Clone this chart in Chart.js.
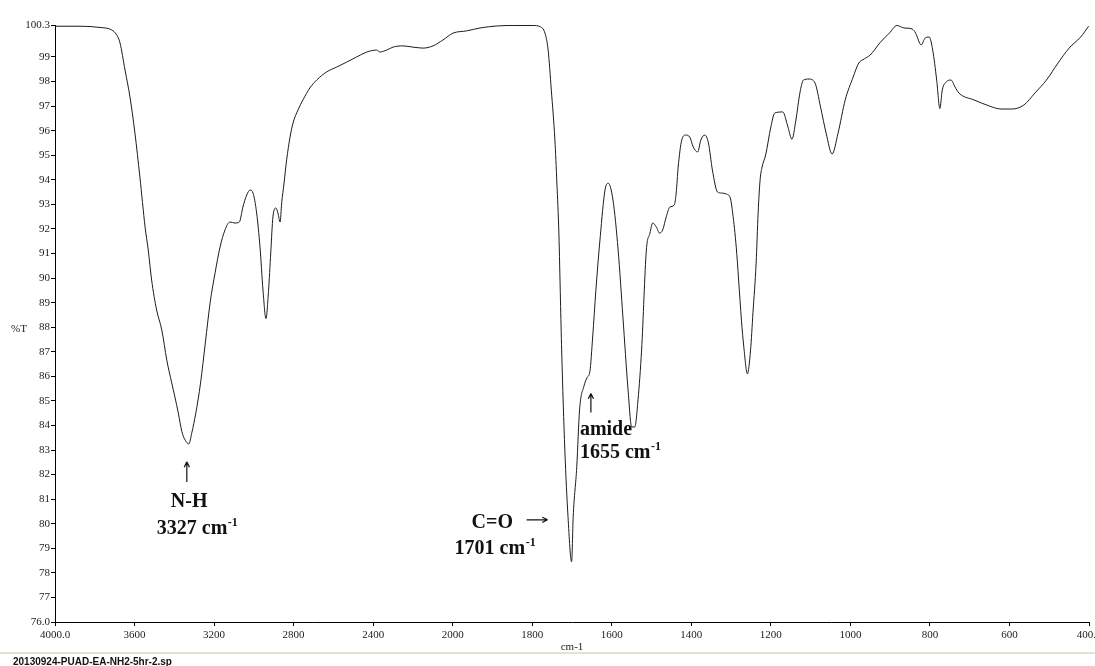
<!DOCTYPE html>
<html>
<head>
<meta charset="utf-8">
<script src="https://cdn.jsdelivr.net/npm/chart.js@4/dist/chart.umd.min.js"></script>
<style>
  html, body { margin: 0; padding: 0; background: #fff; }
  #wrap { position: relative; width: 1095px; height: 666px; overflow: hidden; }
  #spectrum { position: absolute; left: 0; top: 0; }
  #footer { position: absolute; left: 0; top: 652px; width: 1095px; height: 14px; border-top: 2px solid #e6e2d3; }
  #footer span { position: absolute; left: 13px; top: 3px; font: bold 10px "Liberation Sans", Arial, sans-serif; line-height: 10px; color: #111; white-space: nowrap; }
</style>
</head>
<body>
<div id="wrap">
  <canvas id="spectrum" width="1095" height="666"></canvas>
  <div id="footer"><span>20130924-PUAD-EA-NH2-5hr-2.sp</span></div>
</div>
<script>
// FTIR spectrum: wavenumber (cm-1) vs transmittance (%T)
const wavenumbers = [
  4000, 3874, 3774, 3715, 3690, 3673, 3648, 3623, 3598, 3573, 3547, 3531, 3514, 3489, 3463, 3438,
  3413, 3397, 3380, 3362, 3345, 3327, 3312, 3292, 3268, 3244, 3220, 3195, 3170, 3145, 3120, 3095,
  3073, 3055, 3036, 3019, 3004, 2986, 2969, 2954, 2939, 2926, 2915, 2904, 2889, 2879, 2868, 2860,
  2848, 2835, 2818, 2803, 2778, 2753, 2718, 2684, 2634, 2583, 2533, 2483, 2432, 2382, 2366, 2332,
  2300, 2250, 2200, 2149, 2099, 2049, 1999, 1965, 1931, 1889, 1848, 1798, 1780, 1768, 1760, 1752,
  1743, 1738, 1733, 1729, 1726, 1718, 1710, 1701, 1697, 1688, 1681, 1670, 1662, 1655, 1648, 1640,
  1629, 1617, 1609, 1597, 1584, 1572, 1559, 1550, 1542, 1534, 1525, 1513, 1504, 1497, 1488, 1480,
  1472, 1463, 1454, 1443, 1438, 1433, 1424, 1414, 1404, 1395, 1384, 1376, 1366, 1357, 1347, 1334,
  1324, 1312, 1302, 1296, 1287, 1281, 1274, 1268, 1259, 1251, 1245, 1237, 1232, 1227, 1222, 1213,
  1200, 1190, 1170, 1157, 1147, 1137, 1127, 1118, 1104, 1089, 1075, 1061, 1046, 1031, 1013, 993,
  979, 965, 950, 926, 902, 883, 865, 845, 836, 822, 812, 802, 793, 783, 775, 769,
  759, 747, 737, 727, 689, 650, 621, 594, 564, 536, 507, 478, 450, 421, 401
];
const transmittance = [
  100.25, 100.25, 100.2, 100.1, 99.9, 99.57, 98.47, 97.37, 95.9, 94.11, 92.08, 91.14, 89.92, 88.7, 87.89, 86.67,
  85.73, 85.16, 84.51, 83.75, 83.4, 83.25, 83.7, 84.5, 85.73, 87.36, 88.99, 90.21, 91.26, 91.96, 92.28, 92.24,
  92.28, 92.89, 93.38, 93.58, 93.46, 92.65, 91.26, 89.51, 88.35, 89.5, 91.02, 92.49, 92.85, 92.65, 92.28, 93.06,
  93.87, 94.81, 95.74, 96.31, 96.84, 97.25, 97.74, 98.06, 98.39, 98.59, 98.79, 99.0, 99.2, 99.28, 99.2, 99.28,
  99.4, 99.45, 99.4, 99.36, 99.45, 99.69, 99.97, 100.06, 100.18, 100.26, 100.28, 100.28, 100.23, 99.97, 99.28, 97.65,
  95.62, 93.87, 91.83, 89.1, 87.07, 83.0, 80.28, 78.45, 80.28, 82.32, 84.63, 85.6, 85.95, 86.2, 87.6, 89.5,
  91.68, 93.58, 93.86, 93.18, 91.14, 88.42, 85.44, 83.94, 83.94, 85.04, 87.07, 91.14, 91.83, 92.24, 92.08, 91.83,
  91.96, 92.49, 92.89, 92.97, 93.46, 94.52, 95.62, 95.82, 95.74, 95.33, 95.13, 95.62, 95.82, 95.5, 94.4, 93.5,
  93.46, 93.42, 93.26, 92.65, 91.26, 89.92, 88.29, 87.2, 86.1, 87.07, 88.58, 90.61, 92.65, 94.0, 94.52, 95.01,
  96.15, 96.72, 96.76, 96.15, 95.65, 96.43, 97.53, 98.06, 98.1, 97.94, 96.96, 95.9, 95.05, 95.9, 97.25, 98.18,
  98.75, 98.92, 99.08, 99.57, 99.97, 100.28, 100.18, 100.14, 99.97, 99.49, 99.77, 99.81, 99.28, 98.06, 96.9, 97.65,
  97.98, 98.06, 97.78, 97.53, 97.25, 97.0, 96.88, 96.88, 97.04, 97.53, 98.06, 98.75, 99.36, 99.81, 100.25
];

const xTickValues = [4000, 3600, 3200, 2800, 2400, 2000, 1800, 1600, 1400, 1200, 1000, 800, 600, 400];
const xTickLabels = ['4000.0', '3600', '3200', '2800', '2400', '2000', '1800', '1600', '1400', '1200', '1000', '800', '600', '400.0'];
const yTickValues = [76, 77, 78, 79, 80, 81, 82, 83, 84, 85, 86, 87, 88, 89, 90, 91, 92, 93, 94, 95, 96, 97, 98, 99, 100.3];
const yTickLabels = ['76.0', '77', '78', '79', '80', '81', '82', '83', '84', '85', '86', '87', '88', '89', '90', '91', '92', '93', '94', '95', '96', '97', '98', '99', '100.3'];

// Assigned bands: wavenumber, transmittance at the band, caption
const bandWavenumbers = [3327, 1701, 1655];
const bandTransmittance = [83.25, 78.45, 86.2];
const bandNames = ['N-H', 'C=O', 'amide'];

// Wavenumber axis with the usual 2x expansion below 2000 cm-1
const AXIS_HIGH = 4000, AXIS_BREAK = 2000, AXIS_LOW = 400;
const UNITS_HIGH = (AXIS_HIGH - AXIS_BREAK) / 400;   // 5 units, 400 cm-1 each
const UNITS_LOW = (AXIS_BREAK - AXIS_LOW) / 200;     // 8 units, 200 cm-1 each
const UNITS_ALL = UNITS_HIGH + UNITS_LOW;

class ExpandedWavenumberScale extends Chart.LinearScale {
  getPixelForValue(value) {
    const u = value >= AXIS_BREAK
      ? (AXIS_HIGH - value) / 400
      : UNITS_HIGH + (AXIS_BREAK - value) / 200;
    return this.getPixelForDecimal(u / UNITS_ALL);
  }
  getValueForPixel(pixel) {
    const u = this.getDecimalForPixel(pixel) * UNITS_ALL;
    return u <= UNITS_HIGH ? AXIS_HIGH - 400 * u : AXIS_BREAK - 200 * (u - UNITS_HIGH);
  }
}
ExpandedWavenumberScale.id = 'expandedWavenumber';
ExpandedWavenumberScale.defaults = Chart.LinearScale.defaults;
Chart.register(ExpandedWavenumberScale);

const points = wavenumbers.map((w, i) => ({ x: w, y: transmittance[i] }));

const TICK_FONT = { family: '"Liberation Serif", "Times New Roman", serif', size: 11 };
const NOTE_FONT = '"Liberation Serif", "Times New Roman", serif';

function drawArrow(ctx, x1, y1, x2, y2) {
  const ang = Math.atan2(y2 - y1, x2 - x1);
  ctx.beginPath();
  ctx.moveTo(x1, y1);
  ctx.lineTo(x2, y2);
  ctx.moveTo(x2, y2);
  ctx.lineTo(x2 - 6 * Math.cos(ang - 0.45), y2 - 6 * Math.sin(ang - 0.45));
  ctx.moveTo(x2, y2);
  ctx.lineTo(x2 - 6 * Math.cos(ang + 0.45), y2 - 6 * Math.sin(ang + 0.45));
  ctx.stroke();
}

function drawUnit(ctx, value, x, baseline) {
  ctx.font = 'bold 20px ' + NOTE_FONT;
  const main = value + ' cm';
  ctx.fillText(main, x, baseline);
  const w = ctx.measureText(main).width;
  ctx.font = 'bold 12px ' + NOTE_FONT;
  ctx.fillText('-1', x + w + 0.5, baseline - 8);
}

const annotationPlugin = {
  id: 'bandNotes',
  afterDraw(chart) {
    const { ctx, scales: { x, y } } = chart;
    ctx.save();
    ctx.fillStyle = '#111';
    ctx.strokeStyle = '#111';
    ctx.lineWidth = 1.2;
    ctx.textBaseline = 'alphabetic';
    ctx.textAlign = 'left';

    // N-H stretch
    let px = x.getPixelForValue(bandWavenumbers[0]);
    let py = y.getPixelForValue(bandTransmittance[0]);
    drawArrow(ctx, px - 2, py + 38, px - 2, py + 18);
    ctx.font = 'bold 20px ' + NOTE_FONT;
    ctx.fillText(bandNames[0], px - 18, py + 63);
    drawUnit(ctx, bandWavenumbers[0], px - 32, py + 90);

    // C=O stretch
    px = x.getPixelForValue(bandWavenumbers[1]);
    py = y.getPixelForValue(bandTransmittance[1]);
    ctx.font = 'bold 20px ' + NOTE_FONT;
    ctx.fillText(bandNames[1], px - 100, py - 34);
    drawArrow(ctx, px - 45, py - 42, px - 24, py - 42);
    drawUnit(ctx, bandWavenumbers[1], px - 117, py - 8);

    // amide shoulder
    px = x.getPixelForValue(bandWavenumbers[2]);
    py = y.getPixelForValue(bandTransmittance[2]);
    drawArrow(ctx, px + 1, py + 41, px + 1, py + 22);
    ctx.font = 'bold 20px ' + NOTE_FONT;
    ctx.fillText(bandNames[2], px - 10, py + 64);
    drawUnit(ctx, bandWavenumbers[2], px - 10, py + 87);

    // %T axis caption
    ctx.font = '11px ' + NOTE_FONT;
    ctx.fillStyle = '#222';
    ctx.textBaseline = 'middle';
    ctx.fillText('%T', 11, 329);
    ctx.restore();
  }
};

new Chart(document.getElementById('spectrum'), {
  type: 'line',
  data: {
    datasets: [{
      data: points,
      borderColor: '#1c1c1c',
      borderWidth: 1,
      pointRadius: 0,
      fill: false,
      cubicInterpolationMode: 'monotone'
    }]
  },
  options: {
    responsive: false,
    animation: false,
    events: [],
    layout: { padding: { left: 0, top: 25, right: 6, bottom: 0 } },
    plugins: { legend: { display: false }, tooltip: { enabled: false } },
    scales: {
      x: {
        type: 'expandedWavenumber',
        min: AXIS_LOW,
        max: AXIS_HIGH,
        border: { display: true, color: '#000', width: 1 },
        grid: { display: true, drawOnChartArea: false, drawTicks: true, tickLength: 4, color: '#000' },
        afterBuildTicks(scale) { scale.ticks = xTickValues.map(v => ({ value: v })); },
        afterFit(scale) { scale.height = 44; scale.paddingLeft = 0; scale.paddingRight = 0; },
        ticks: {
          autoSkip: false,
          maxRotation: 0,
          padding: 3,
          color: '#222',
          font: TICK_FONT,
          callback(value) { const i = xTickValues.indexOf(value); return i >= 0 ? xTickLabels[i] : ''; }
        },
        title: { display: true, text: 'cm-1', color: '#222', font: TICK_FONT, padding: { top: 0, bottom: 12 } }
      },
      y: {
        type: 'linear',
        min: 76,
        max: 100.3,
        border: { display: true, color: '#000', width: 1 },
        grid: { display: true, drawOnChartArea: false, drawTicks: true, tickLength: 4, color: '#000' },
        afterBuildTicks(scale) { scale.ticks = yTickValues.map(v => ({ value: v })); },
        afterFit(scale) { scale.width = 55; },
        ticks: {
          autoSkip: false,
          padding: 1,
          color: '#222',
          font: TICK_FONT,
          callback(value) { const i = yTickValues.indexOf(value); return i >= 0 ? yTickLabels[i] : ''; }
        }
      }
    }
  },
  plugins: [annotationPlugin]
});
</script>
</body>
</html>
